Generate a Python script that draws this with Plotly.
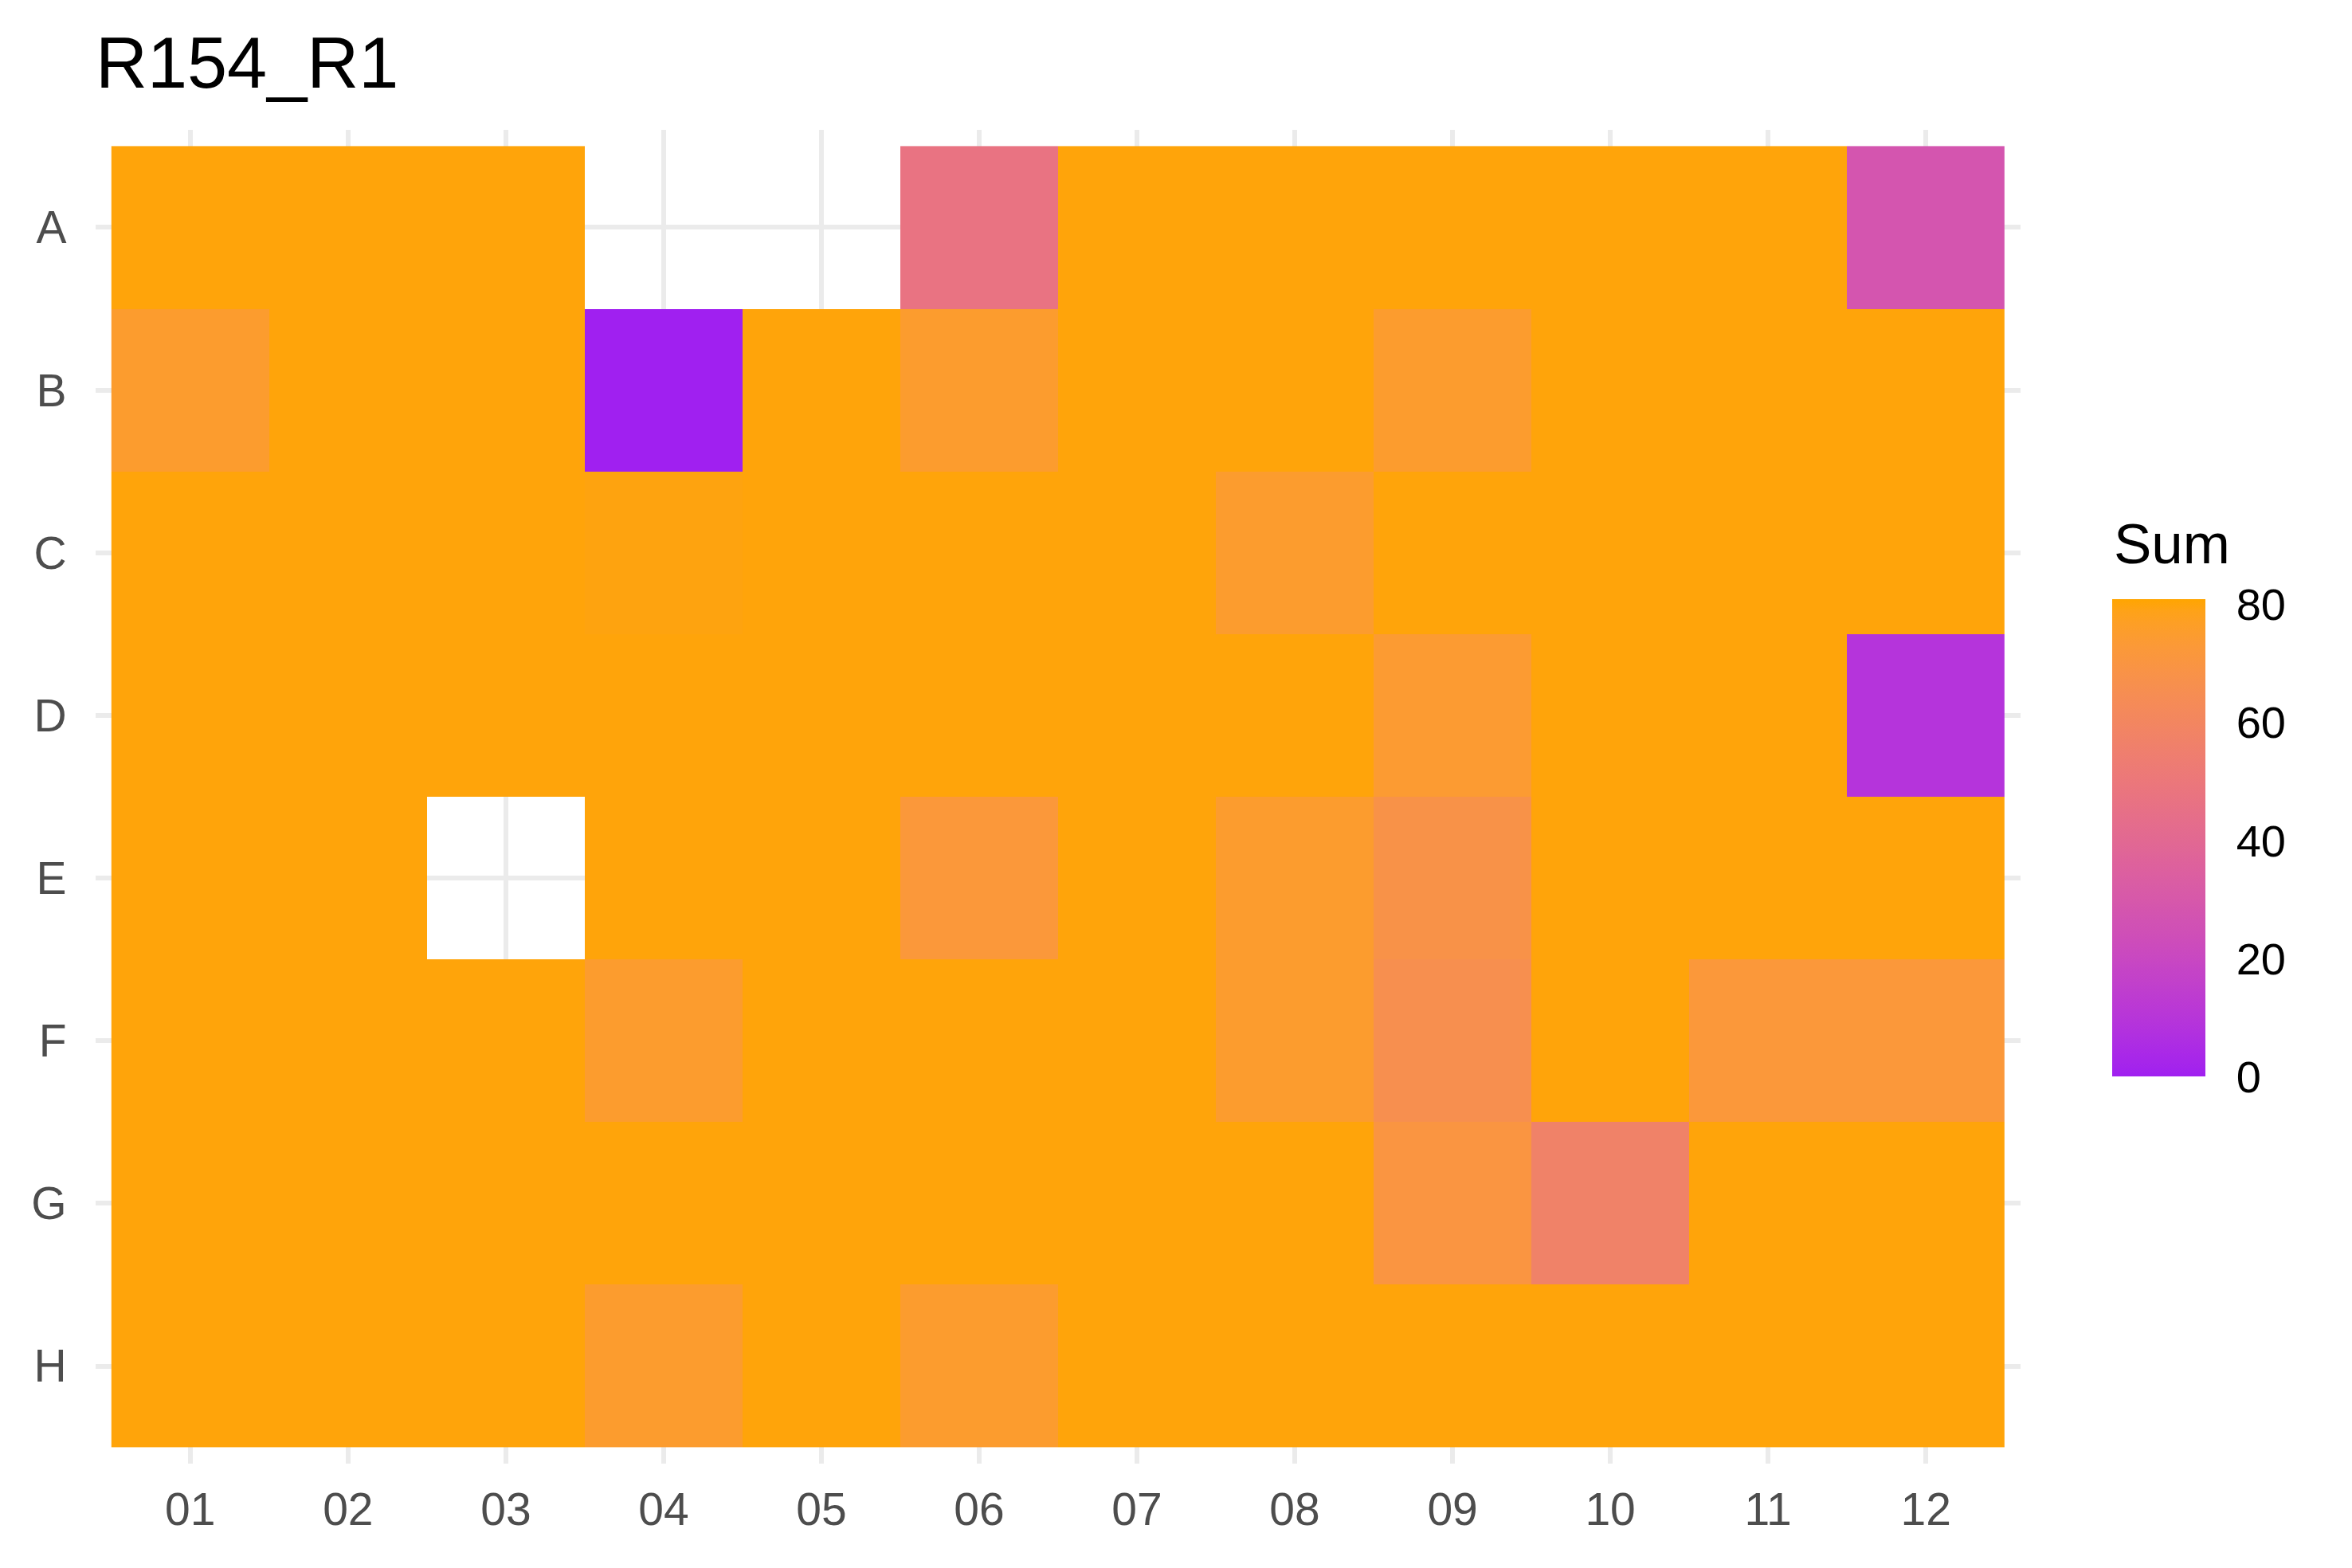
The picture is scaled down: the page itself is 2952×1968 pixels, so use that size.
import numpy as np
import plotly.graph_objects as go

title = "R154_R1"
legend_title = "Sum"
cols = ["01", "02", "03", "04", "05", "06", "07", "08", "09", "10", "11", "12"]
rows = ["A", "B", "C", "D", "E", "F", "G", "H"]
N = None
row_A = [80, 80, 80, N, N, 47, 80, 80, 80, 80, 80, 28]
row_B = [75, 80, 80, 0, 80, 75, 80, 80, 75, 80, 80, 80]
row_C = [80, 80, 80, 79.5, 80, 80, 80, 75, 80, 80, 80, 80]
row_D = [80, 80, 80, 80, 80, 80, 80, 80, 74, 80, 80, 9]
row_E = [80, 80, N, 80, 80, 72, 80, 75, 68, 80, 80, 80]
row_F = [80, 80, 80, 75, 80, 80, 80, 75, 66, 80, 72, 72]
row_G = [80, 80, 80, 80, 80, 80, 80, 80, 70, 57, 80, 80]
row_H = [80, 80, 80, 75, 80, 75, 80, 80, 80, 80, 80, 80]
z = [row_A, row_B, row_C, row_D, row_E, row_F, row_G, row_H]
cbar_ticks = [0, 20, 40, 60, 80]

# Lab-space gradient purple -> orange (like ggplot2 scale_fill_gradient)
def srgb_to_lab(c):
    c = np.array(c) / 255.0
    lin = np.where(c <= 0.04045, c / 12.92, ((c + 0.055) / 1.055) ** 2.4)
    M = np.array([[0.4124, 0.3576, 0.1805], [0.2126, 0.7152, 0.0722], [0.0193, 0.1192, 0.9505]])
    xyz = M @ lin
    xyz = xyz / np.array([0.95047, 1.0, 1.08883])
    f = np.where(xyz > 0.008856, np.cbrt(xyz), 7.787 * xyz + 16 / 116)
    return np.array([116 * f[1] - 16, 500 * (f[0] - f[1]), 200 * (f[1] - f[2])])

def lab_to_srgb(lab):
    L, a, b = lab
    fy = (L + 16) / 116
    fx = fy + a / 500
    fz = fy - b / 200
    f = np.array([fx, fy, fz])
    xyz = np.where(f ** 3 > 0.008856, f ** 3, (f - 16 / 116) / 7.787)
    xyz = xyz * np.array([0.95047, 1.0, 1.08883])
    Mi = np.array([[3.2406, -1.5372, -0.4986], [-0.9689, 1.8758, 0.0415], [0.0557, -0.2040, 1.0570]])
    lin = Mi @ xyz
    lin = np.clip(lin, 0, 1)
    c = np.where(lin <= 0.0031308, 12.92 * lin, 1.055 * lin ** (1 / 2.4) - 0.055)
    return np.clip(np.round(c * 255), 0, 255).astype(int)

lo = srgb_to_lab((160, 32, 240))
hi = srgb_to_lab((255, 165, 0))
colorscale = []
for t in np.linspace(0, 1, 41):
    r, g, b = lab_to_srgb(lo + (hi - lo) * t)
    colorscale.append([float(t), f"rgb({r},{g},{b})"])

W, H = 2952, 1968
OFF = 8  # page body margin offset
ml, mt = 120 - OFF, 163 - OFF
mr, mb = W - (2536 - OFF), H - (1837 - OFF)
pw, ph = W - ml - mr, H - mt - mb
py_bottom = H - mb

def xpaper(px):
    return (px - OFF - ml) / pw

def ypaper(py):
    return (py_bottom - (py - OFF)) / ph

fig = go.Figure(go.Heatmap(
    z=z, x=list(range(len(cols))), y=list(range(len(rows))),
    colorscale=colorscale, zmin=0, zmax=80.8,
    hoverongaps=False,
    colorbar=dict(
        thickness=117, thicknessmode="pixels",
        len=599, lenmode="pixels",
        x=xpaper(2651), xanchor="left", xref="paper", xpad=0,
        y=ypaper(1052), yanchor="middle", ypad=0,
        tickvals=cbar_ticks, ticktext=[str(v) for v in cbar_ticks],
        ticks="outside", ticklen=28, tickcolor="rgba(0,0,0,0)",
        tickfont=dict(size=56, color="black"),
        outlinewidth=0,
    ),
))

fig.add_annotation(
    text=legend_title, x=xpaper(2651), y=ypaper(682), xref="paper", yref="paper",
    xanchor="left", yanchor="middle", showarrow=False,
    font=dict(size=71, color="black"),
)

fig.update_layout(
    width=W, height=H,
    margin=dict(l=ml, r=mr, t=mt, b=mb),
    paper_bgcolor="white", plot_bgcolor="white",
    font=dict(family="Liberation Sans, Arial, sans-serif"),
    title=dict(text=title, x=0, xref="paper", xanchor="left",
               y=1 - (78 - OFF) / H, yref="container", yanchor="middle",
               font=dict(size=90, color="black")),
)
fig.update_xaxes(
    range=[-0.6, len(cols) - 0.4], tickvals=list(range(len(cols))), ticktext=cols,
    showgrid=True, gridcolor="#EBEBEB", gridwidth=6, zeroline=False,
    ticks="outside", ticklen=8, tickcolor="rgba(0,0,0,0)",
    tickfont=dict(size=57, color="#4D4D4D"), showline=False,
)
fig.update_yaxes(
    range=[len(rows) - 0.4, -0.6], tickvals=list(range(len(rows))), ticktext=rows,
    showgrid=True, gridcolor="#EBEBEB", gridwidth=6, zeroline=False,
    ticks="outside", ticklen=24, tickcolor="rgba(0,0,0,0)",
    tickfont=dict(size=57, color="#4D4D4D"), showline=False,
)

fig.write_html("out.html")
